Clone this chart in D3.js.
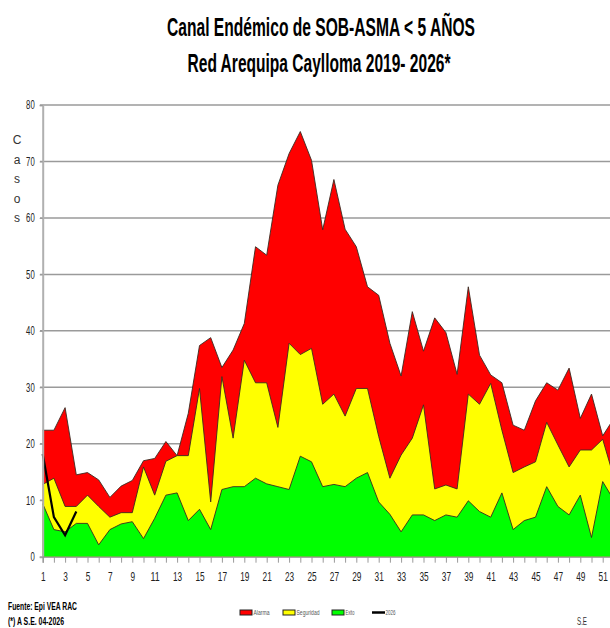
<!DOCTYPE html>
<html><head><meta charset="utf-8">
<script src="https://cdn.jsdelivr.net/npm/d3@7/dist/d3.min.js"></script>
<style>body{margin:0;background:#fff}svg{display:block}</style>
</head><body>
<script>
const weeks = d3.range(1, 53);
const alarma = [22.4,22.4,26.4,14.5,14.9,13.6,10.5,12.5,13.5,17.0,17.4,20.4,17.9,25.4,37.4,38.8,33.5,36.6,41.3,54.9,53.4,65.8,71.4,75.3,70.2,57.9,66.8,58.0,54.9,47.8,46.3,37.8,32.0,43.4,36.4,42.3,39.7,32.3,47.8,35.7,32.2,30.8,23.3,22.4,27.6,30.8,29.5,33.4,24.5,28.8,21.4,24.5];
const seguridad = [12.8,13.9,8.9,8.9,10.9,8.9,7.0,7.8,7.8,15.9,10.9,16.9,17.9,17.9,29.8,9.7,31.9,21.0,34.8,30.8,30.8,22.9,37.8,35.8,36.9,27.0,28.8,24.9,29.8,29.8,21.3,13.9,18.0,21.0,26.9,12.0,12.7,12.0,28.8,27.0,30.7,22.4,14.9,15.9,16.8,23.8,19.8,15.9,18.9,18.9,20.8,14.0];
const exito = [9.4,4.8,4.4,5.9,5.9,2.1,4.8,5.8,6.2,3.2,6.8,10.9,11.3,6.4,8.4,4.8,11.9,12.4,12.4,13.9,12.9,12.4,11.9,17.8,16.8,12.4,12.8,12.4,13.9,14.9,9.7,7.5,4.4,7.4,7.4,6.4,7.4,7.0,9.9,8.0,7.0,11.3,4.8,6.4,7.0,12.4,8.9,7.4,10.9,3.4,13.3,10.0];
const casos2026 = [18.2,7.0,3.8,8.0];
const yTicks = [0,10,20,30,40,50,60,70,80];
const xTickLabels = d3.range(1, 52, 2);
const titleLines = ["Canal Endémico de SOB-ASMA < 5 AÑOS","Red Arequipa Caylloma 2019- 2026*"];
const legendItems = [{name:"Alarma",color:"#ff0000"},{name:"Seguridad",color:"#ffff00"},{name:"Exito",color:"#00ff00"},{name:"2026",color:"#000",line:true}];

const W = 610, H = 628;
const svg = d3.select("body").append("svg").attr("width", W).attr("height", H);
const FONT = "'Liberation Sans Narrow','Arial Narrow','Liberation Sans',Arial,sans-serif";

const x = d3.scaleLinear().domain([1, 52]).range([42.7, 42.7 + 51*11.2]);
const y = d3.scaleLinear().domain([0, 80]).range([556.7, 105]);

function fit(sel, w){ sel.attr("textLength", w).attr("lengthAdjust","spacingAndGlyphs"); return sel; }

// title
fit(svg.append("text").attr("x", 321).attr("y", 36).attr("text-anchor","middle")
  .attr("font-family", FONT).attr("font-weight","bold").attr("font-size", 25).text(titleLines[0]), 308);
fit(svg.append("text").attr("x", 319).attr("y", 72).attr("text-anchor","middle")
  .attr("font-family", FONT).attr("font-weight","bold").attr("font-size", 25).text(titleLines[1]), 263);

// gridlines
svg.append("g").selectAll("line").data(yTicks.filter(d=>d>0)).join("line")
  .attr("x1", 40).attr("x2", W).attr("y1", d=>y(d)).attr("y2", d=>y(d))
  .attr("stroke", "#9a9a9a").attr("stroke-width", 1.5);

// areas
const series = [{v:alarma,c:"#ff0000"},{v:seguridad,c:"#ffff00"},{v:exito,c:"#00ff00"}];
series.forEach(s=>{
  const area = d3.area().x((d,i)=>x(weeks[i])).y0(y(0)).y1(d=>y(d));
  const line = d3.line().x((d,i)=>x(weeks[i])).y(d=>y(d));
  svg.append("path").datum(s.v).attr("d", area).attr("fill", s.c);
  svg.append("path").datum(s.v).attr("d", line).attr("fill","none").attr("stroke","#3a2a20").attr("stroke-width",0.9).attr("stroke-linejoin","round");
});

// 2026 line
svg.append("path").datum(casos2026)
  .attr("d", d3.line().x((d,i)=>x(weeks[i])).y(d=>y(d)))
  .attr("fill","none").attr("stroke","#000").attr("stroke-width",2.2);

// y axis
const yAxis = d3.axisLeft(y).tickValues(yTicks).tickSize(3).tickPadding(5);
const gy = svg.append("g").attr("transform","translate(42.7,0)").call(yAxis);
gy.select(".domain").attr("stroke","#b0b0b0").attr("stroke-width",2);
gy.selectAll(".tick line").attr("stroke","#9a9a9a");
gy.selectAll(".tick text").attr("font-family", FONT).attr("font-size", 12).attr("fill","#222")
  .each(function(d){ const s=String(d); d3.select(this).attr("textLength", s.length*4.3).attr("lengthAdjust","spacingAndGlyphs"); });

// x axis
const xAxis = d3.axisBottom(x).tickValues(weeks).tickSize(6).tickFormat(d => d%2===1 && d<52 ? d : "").tickPadding(9);
const gx = svg.append("g").attr("transform",`translate(0,${y(0)})`).call(xAxis);
gx.select(".domain").attr("stroke","#8a8a8a").attr("stroke-width",1.2);
gx.selectAll(".tick line").attr("stroke","#9a9a9a");
gx.selectAll(".tick text").attr("font-family", FONT).attr("font-size", 13).attr("fill","#222")
  .each(function(d){ const s=String(d); if(xTickLabels.includes(d)) d3.select(this).attr("textLength", s.length*4.6).attr("lengthAdjust","spacingAndGlyphs"); });

// Casos vertical
"Casos".split("").forEach((ch,i)=>{
  svg.append("text").attr("x",17).attr("y",144+i*19.5).attr("text-anchor","middle")
    .attr("font-family", FONT).attr("font-size", 12).attr("fill","#333").text(ch);
});

// footer
fit(svg.append("text").attr("x",8).attr("y",610).attr("font-family",FONT).attr("font-weight","bold").attr("font-size",11).text("Fuente: Epi VEA RAC"),69);
fit(svg.append("text").attr("x",8).attr("y",625).attr("font-family",FONT).attr("font-weight","bold").attr("font-size",11).text("(*) A S.E. 04-2026"),56);
fit(svg.append("text").attr("x",577).attr("y",625).attr("font-family",FONT).attr("font-size",11).attr("fill","#333").text("S.E"),10);

// legend
const lx = [240, 283, 332, 372];
const lw = [16, 23, 9, 10];
legendItems.forEach((it,i)=>{
  const g = svg.append("g");
  if(it.line){
    g.append("line").attr("x1",lx[i]).attr("x2",lx[i]+13).attr("y1",612.5).attr("y2",612.5).attr("stroke","#000").attr("stroke-width",2.5);
  } else {
    g.append("rect").attr("x",lx[i]).attr("y",610).attr("width",12).attr("height",5).attr("fill",it.color).attr("stroke","#222").attr("stroke-width",1);
  }
  fit(g.append("text").attr("x",lx[i]+13.5).attr("y",615).attr("font-family",FONT).attr("font-size",7).attr("fill","#555").text(it.name), lw[i]);
});
</script>
</body></html>
